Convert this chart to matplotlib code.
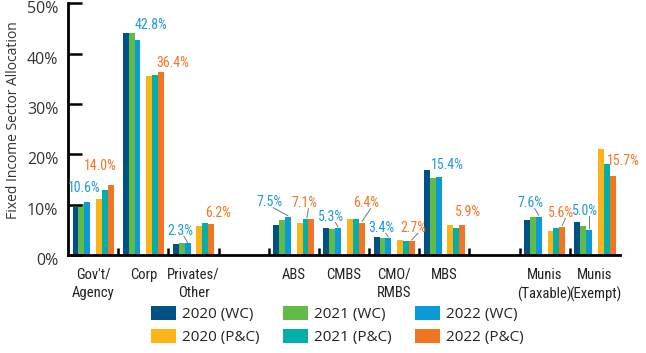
import numpy as np
import matplotlib
matplotlib.use("Agg")
import matplotlib.pyplot as plt
from matplotlib import font_manager
from matplotlib.patches import Patch
import matplotlib.transforms as mtransforms

# sectors, with empty slots used as spacers
sectors = ["Gov't/\nAgency", "Corp", "Privates/\nOther", "",
           "ABS", "CMBS", "CMO/\nRMBS", "MBS", "",
           "Munis\n(Taxable)", "Munis\n(Exempt)"]

wc_2020 = [9.6, 44.1, 2.2, np.nan, 6.0, 5.4, 3.5, 16.9, np.nan, 7.0, 6.6]
wc_2021 = [10.1, 44.1, 2.4, np.nan, 7.0, 5.2, 3.4, 15.3, np.nan, 7.5, 5.8]
wc_2022 = [10.6, 42.8, 2.3, np.nan, 7.5, 5.3, 3.4, 15.4, np.nan, 7.6, 5.0]
pc_2020 = [11.1, 35.6, 5.8, np.nan, 6.4, 7.2, 3.0, 6.0, np.nan, 4.8, 21.1]
pc_2021 = [12.9, 35.8, 6.4, np.nan, 7.2, 7.2, 2.8, 5.4, np.nan, 5.4, 18.1]
pc_2022 = [14.0, 36.4, 6.2, np.nan, 7.1, 6.4, 2.7, 5.9, np.nan, 5.6, 15.7]

series_names = ["2020 (WC)", "2021 (WC)", "2022 (WC)",
                "2020 (P&C)", "2021 (P&C)", "2022 (P&C)"]
series = [wc_2020, wc_2021, wc_2022, pc_2020, pc_2021, pc_2022]
colors = ["#005286", "#62bb46", "#0a9bd6", "#fbb316", "#00b0a8", "#f47521"]
offsets = [-0.351, -0.233, -0.115, 0.115, 0.233, 0.351]

blue_txt = "#1e9ad6"
orange_txt = "#f47521"


def pick_condensed():
    names = sorted({f.name for f in font_manager.fontManager.ttflist})
    for want in ["Liberation Sans Narrow", "Roboto Condensed",
                 "Open Sans Condensed", "DejaVu Sans Condensed"]:
        if want in names:
            return want, False
    for n in names:
        if "Condensed" in n or "Narrow" in n:
            return n, False
    return "Roboto", True


cond_name, shrink = pick_condensed()
cond = [cond_name, "DejaVu Sans"]
plain = ["Open Sans", "DejaVu Sans"]
lab_size = 8.5 if shrink else 10
tick_size = 9.5 if shrink else 10.5

fig = plt.figure(figsize=(6.46, 3.53), dpi=100)
ax = fig.add_axes([0.1053, 0.2776, 0.8545, 0.7131])

x = np.arange(len(sectors))
for vals, col, off in zip(series, colors, offsets):
    ax.bar(x + off, vals, width=0.118, color=col, linewidth=0)

ax.set_xlim(-0.5, 10.5)
ax.set_ylim(0, 50)
ax.set_yticks(np.arange(0, 51, 10))
ax.set_yticklabels([f"{v}%" for v in range(0, 51, 10)],
                   fontfamily=plain, fontsize=11.5, color="#333333")
ax.set_xticks(x)
ax.set_xticklabels(sectors, fontfamily=cond, fontsize=tick_size,
                   color="#222222", linespacing=1.45)
ax.tick_params(axis="x", length=0, pad=9)
ax.tick_params(axis="y", direction="in", length=10, width=1.8, pad=7)

# the y labels sit a few pixels below their ticks in the original
shift = mtransforms.ScaledTranslation(0, -0.04, fig.dpi_scale_trans)
for t in ax.get_yticklabels():
    t.set_transform(t.get_transform() + shift)

# small boundary ticks on the x axis
for b in np.arange(0.5, 10.5, 1.0):
    ax.plot([b, b], [0, 1.3], color="black", lw=1.8, solid_capstyle="butt",
            clip_on=False)

for s in ["top", "right"]:
    ax.spines[s].set_visible(False)
for s in ["left", "bottom"]:
    ax.spines[s].set_linewidth(2)
    ax.spines[s].set_color("black")

ax.set_ylabel("Fixed Income Sector Allocation", fontfamily=plain,
              fontsize=10, color="#333333")
ax.yaxis.set_label_coords(-0.085, 0.535)

# value labels: (text, x, y, colour, leader line end or None)
labels = [
    ("10.6%", -0.18, 13.3, blue_txt, None),
    ("14.0%", 0.14, 17.7, orange_txt, None),
    ("42.8%", 1.16, 45.6, blue_txt, None),
    ("36.4%", 1.58, 38.2, orange_txt, None),
    ("2.3%", 1.73, 4.8, blue_txt, (1.88, 2.5)),
    ("6.2%", 2.49, 8.35, orange_txt, None),
    ("7.5%", 3.51, 10.5, blue_txt, (3.88, 7.8)),
    ("7.1%", 4.21, 10.3, orange_txt, (4.26, 7.4)),
    ("5.3%", 4.75, 7.55, blue_txt, (4.88, 5.6)),
    ("6.4%", 5.45, 10.3, orange_txt, (5.36, 6.7)),
    ("3.4%", 5.75, 5.4, blue_txt, (5.88, 3.6)),
    ("2.7%", 6.39, 5.4, orange_txt, (6.35, 3.0)),
    ("15.4%", 7.05, 17.9, blue_txt, None),
    ("5.9%", 7.48, 8.5, orange_txt, None),
    ("7.6%", 8.72, 10.3, blue_txt, (8.88, 7.9)),
    ("5.6%", 9.33, 8.35, orange_txt, (9.35, 5.9)),
    ("5.0%", 9.8, 8.75, blue_txt, (9.88, 5.3)),
    ("15.7%", 10.56, 18.7, orange_txt, None),
]
for txt, lx, ly, col, lead in labels:
    ax.text(lx, ly, txt, color=col, fontfamily=cond, fontsize=lab_size,
            ha="center", va="center", clip_on=False)
    if lead is not None:
        ax.plot([lx + 0.08, lead[0]], [ly - 1.1, lead[1]], color="#777777",
                lw=0.7, clip_on=False)

handles = [Patch(facecolor=c, edgecolor="none") for c in colors]
order = [0, 3, 1, 4, 2, 5]
fig.legend([handles[i] for i in order], [series_names[i] for i in order],
           ncol=3, loc="center", bbox_to_anchor=(0.522, 0.077), frameon=False,
           prop={"family": plain, "size": 11}, handlelength=1.65,
           handleheight=1.0, handletextpad=0.4, columnspacing=1.5,
           labelspacing=0.45, labelcolor="#222222")

fig.savefig("out.png", dpi=100)
